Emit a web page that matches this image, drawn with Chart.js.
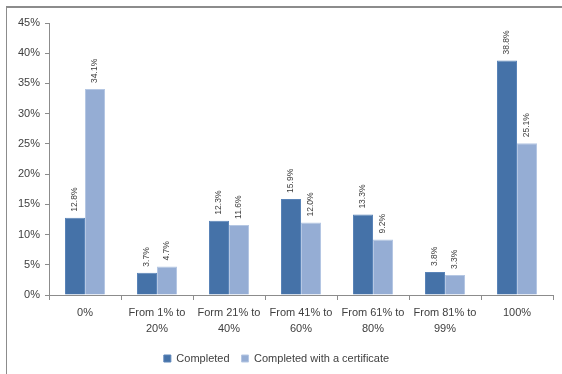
<!DOCTYPE html>
<html>
<head>
<meta charset="utf-8">
<script src="https://cdn.jsdelivr.net/npm/chart.js@4"></script>
<style>
  html, body { margin: 0; padding: 0; background: #fff; }
  #wrap { position: relative; width: 562px; height: 374px; overflow: hidden; }
  #frame { position: absolute; left: 6px; top: 6px; width: 600px; height: 400px;
           border-left: 1px solid #8c8c8c; border-top: 2px solid #8c8c8c; }
  #chart { position: absolute; left: 0; top: 0; }
</style>
</head>
<body>
<div id="wrap">
  <div id="frame"></div>
  <canvas id="chart" width="562" height="374"></canvas>
</div>
<script>
// categories and values
const categories = [['0%'], ['From 1% to', '20%'], ['Form 21% to', '40%'], ['From 41% to', '60%'],
                    ['From 61% to', '80%'], ['From 81% to', '99%'], ['100%']];
const completed = [12.8, 3.7, 12.3, 15.9, 13.3, 3.8, 38.8];
const withCertificate = [34.1, 4.7, 11.6, 12.0, 9.2, 3.3, 25.1];
const seriesNames = ['Completed', 'Completed with a certificate'];

const textColor = '#404040';
const axisColor = '#8c8c8c';
const fontFamily = "'Liberation Sans', Arial, sans-serif";

// rotated value labels above each bar
const valueLabels = {
    id: 'valueLabels',
    afterDatasetsDraw(chart) {
        const ctx = chart.ctx;
        ctx.save();
        ctx.fillStyle = textColor;
        ctx.font = `8.5px ${fontFamily}`;
        ctx.textAlign = 'left';
        ctx.textBaseline = 'middle';
        chart.data.datasets.forEach((ds, di) => {
            chart.getDatasetMeta(di).data.forEach((bar, i) => {
                ctx.save();
                ctx.translate(bar.x, bar.y - 6);
                ctx.rotate(-Math.PI / 2);
                ctx.fillText(ds.data[i].toFixed(1) + '%', 0, 0);
                ctx.restore();
            });
        });
        ctx.restore();
    }
};

new Chart(document.getElementById('chart'), {
    type: 'bar',
    data: {
        labels: categories,
        datasets: [
            { label: seriesNames[0], data: completed, backgroundColor: '#4572A8', borderColor: '#5a84b8', borderWidth: 1,
              categoryPercentage: 0.556, barPercentage: 1 },
            { label: seriesNames[1], data: withCertificate, backgroundColor: '#95ADD4', borderColor: '#b5c7e3', borderWidth: 1,
              categoryPercentage: 0.556, barPercentage: 1 }
        ]
    },
    options: {
        responsive: false,
        animation: false,
        layout: { padding: { left: 0, right: 9, top: 23, bottom: 0 } },
        plugins: {
            legend: {
                position: 'bottom',
                labels: { boxWidth: 7, boxHeight: 7, padding: 12, color: textColor, font: { family: fontFamily, size: 11 } }
            },
            tooltip: { enabled: false }
        },
        scales: {
            x: {
                grid: { drawOnChartArea: false, tickLength: 5, color: axisColor },
                border: { color: axisColor },
                ticks: { color: textColor, padding: 5, maxRotation: 0, autoSkip: false,
                         font: { family: fontFamily, size: 11, lineHeight: 1.45 } },
                afterFit: s => { s.height = 46; }
            },
            y: {
                min: 0, max: 45,
                grid: { drawOnChartArea: false, tickLength: 4, color: axisColor },
                border: { color: axisColor },
                ticks: { stepSize: 5, color: textColor, padding: 5, callback: v => v + '%',
                         font: { family: fontFamily, size: 11 } },
                afterFit: s => { s.width = 49; }
            }
        }
    },
    plugins: [valueLabels]
});
</script>
</body>
</html>
